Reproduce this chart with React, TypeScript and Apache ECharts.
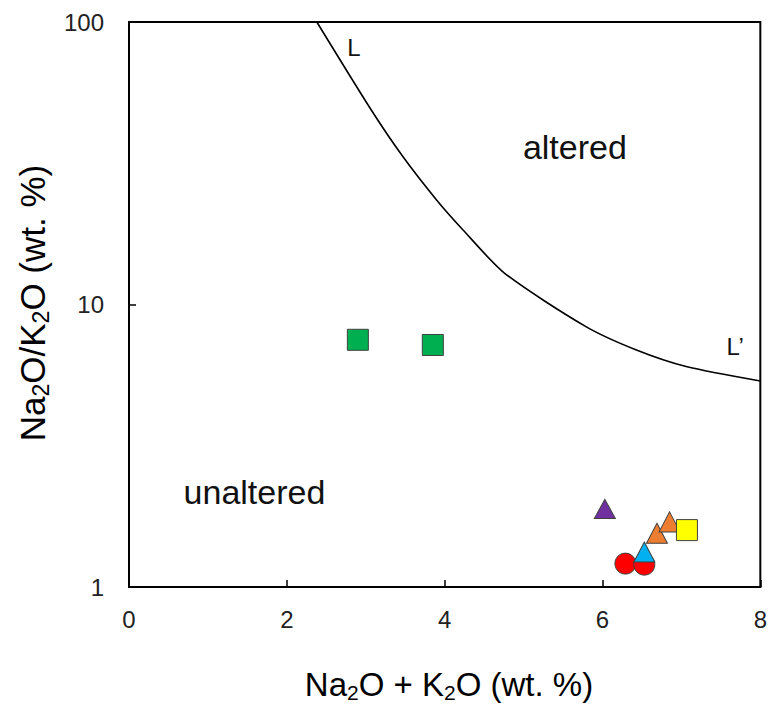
import React, { useEffect, useRef } from "react";
import * as echarts from "echarts";

// Boundary line L–L'
const curveX = [2.38, 3.07, 3.47, 3.9, 4.23, 4.76, 5.79, 6.43, 7.06, 8.0];
const curveY = [100, 48.8, 33.4, 23.4, 18.4, 12.9, 8.35, 6.9, 6.03, 5.36];

// Samples
const greenSquares = [[2.9, 7.5], [3.85, 7.19]];
const redCircles = [[6.29, 1.21], [6.53, 1.2]];
const blueTriangles = [[6.53, 1.33]];
const orangeTriangles = [[6.69, 1.55], [6.85, 1.7]];
const purpleTriangles = [[6.03, 1.89]];
const yellowSquares = [[7.07, 1.59]];

// Annotations
const annotations = [
  { text: "L", x: 2.85, y: 81.5, size: 24 },
  { text: "altered", x: 5.65, y: 36.1, size: 34 },
  { text: "L\u2019", x: 7.68, y: 7.1, size: 24 },
  { text: "unaltered", x: 1.59, y: 2.17, size: 34 },
];

const xTicks = { min: 0, max: 8, interval: 2 };
const yTicks = { min: 1, max: 100 };

const FONT = "'Liberation Sans', Arial, sans-serif";

export default function App() {
  const ref = useRef<HTMLDivElement>(null);
  useEffect(() => {
    if (!ref.current) return;
    const chart = echarts.init(ref.current, undefined, { renderer: "svg" });
    const border = { color: "#404040", width: 1 };
    const mk = (data: number[][], symbol: string, size: any, color: string, z: number) => ({
      type: "scatter",
      data,
      symbol,
      symbolSize: size,
      itemStyle: { color, borderColor: border.color, borderWidth: border.width, opacity: 1 },
      z,
    });
    const richFor = (fs: number) => ({
      a: { fontSize: fs, fontFamily: FONT, color: "#111" },
      s: { fontSize: Math.round(fs * 0.65), fontFamily: FONT, color: "#111", padding: [Math.round(fs * 0.5), 0, 0, 0] },
    });
    chart.setOption({
      animation: false,
      backgroundColor: "#fff",
      grid: {
        left: 129,
        right: 9,
        top: 22,
        bottom: 122,
        show: true,
        borderColor: "#000",
        borderWidth: 2,
        backgroundColor: "transparent",
      },
      xAxis: {
        type: "value",
        min: xTicks.min,
        max: xTicks.max,
        interval: xTicks.interval,
        axisLine: { show: true, lineStyle: { color: "#000", width: 2 } },
        axisTick: { show: true, inside: true, length: 7, lineStyle: { color: "#000", width: 1.5 } },
        splitLine: { show: false },
        axisLabel: { fontSize: 24, fontFamily: FONT, color: "#222", margin: 20 },
      },
      yAxis: {
        type: "log",
        logBase: 10,
        min: yTicks.min,
        max: yTicks.max,
        axisLine: { show: true, lineStyle: { color: "#000", width: 2 } },
        axisTick: { show: true, inside: true, length: 7, lineStyle: { color: "#000", width: 1.5 } },
        minorTick: { show: false },
        splitLine: { show: false },
        axisLabel: { fontSize: 24, fontFamily: FONT, color: "#222", margin: 25 },
      },
      graphic: [
        {
          type: "text",
          x: 449,
          y: 684,
          style: {
            text: "{a|Na}{s|2}{a|O + K}{s|2}{a|O (wt. %)}",
            rich: richFor(33),
            align: "center",
            verticalAlign: "middle",
          },
        },
        {
          type: "text",
          x: 32,
          y: 303,
          rotation: Math.PI / 2,
          style: {
            text: "{a|Na}{s|2}{a|O/K}{s|2}{a|O (wt. %)}",
            rich: richFor(35),
            align: "center",
            verticalAlign: "middle",
          },
        },
      ],
      series: [
        {
          type: "line",
          data: curveX.map((x, i) => [x, curveY[i]]),
          smooth: 0.25,
          showSymbol: false,
          symbol: "none",
          lineStyle: { color: "#000", width: 1.6 },
          z: 1,
        },
        {
          type: "scatter",
          symbolSize: 0,
          itemStyle: { opacity: 1 },
          data: annotations.map((a) => ({
            value: [a.x, a.y],
            label: {
              show: true,
              formatter: a.text,
              position: "inside",
              fontSize: a.size,
              fontFamily: FONT,
              color: "#111",
            },
          })),
          z: 2,
        },
        mk(greenSquares, "rect", 21, "#00B050", 3),
        mk(redCircles, "circle", 21, "#FF0000", 3),
        mk(blueTriangles, "triangle", [21, 20], "#00B0F0", 4),
        mk(orangeTriangles, "triangle", [21, 20], "#ED7D31", 4),
        mk(purpleTriangles, "triangle", [21, 19], "#7030A0", 4),
        mk(yellowSquares, "rect", 21, "#FFFF00", 5),
      ],
    });
    return () => chart.dispose();
  }, []);
  return <div ref={ref} style={{ position: "absolute", left: 0, top: 0, width: 770, height: 709 }} />;
}
